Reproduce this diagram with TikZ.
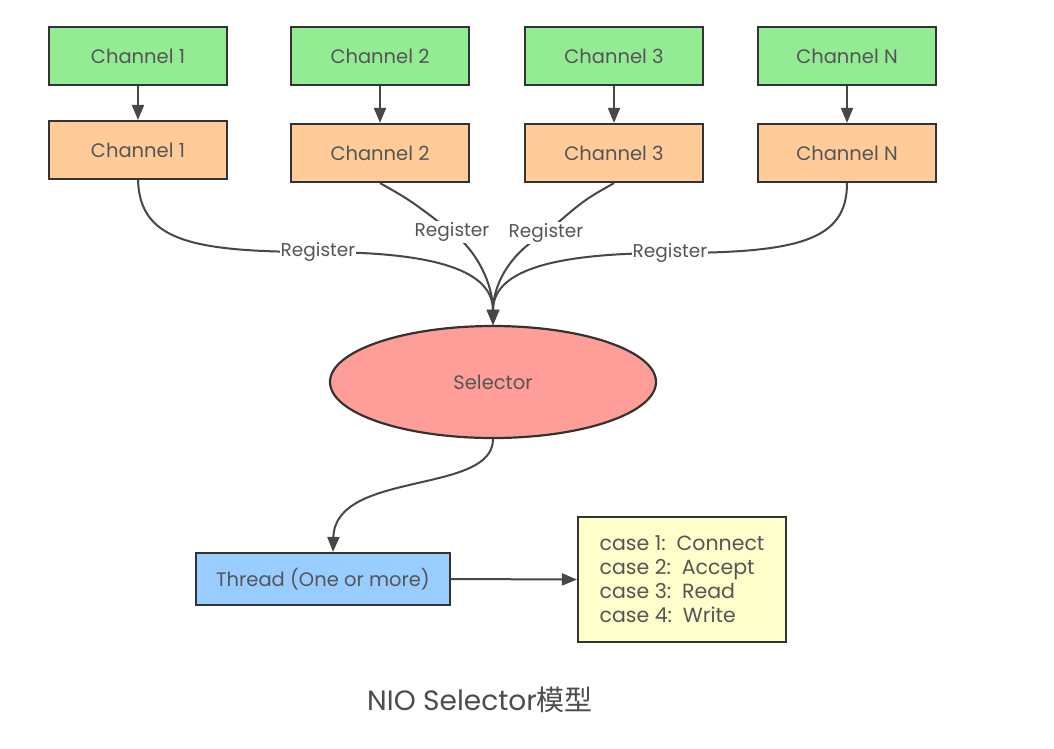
\documentclass[tikz,border=0pt]{standalone}
\usepackage{fontspec}
\setmainfont{Poppins}
\newfontfamily\cjk{Noto Sans CJK SC}
\usetikzlibrary{arrows.meta,shapes.geometric}
\definecolor{gfill}{HTML}{93EB93}
\definecolor{ofill}{HTML}{FFCC99}
\definecolor{sfill}{HTML}{FF9E99}
\definecolor{bfill}{HTML}{99CCFF}
\definecolor{yfill}{HTML}{FFFFCC}
\definecolor{edge}{HTML}{333333}
\definecolor{txt}{HTML}{555555}
\begin{document}
\begin{tikzpicture}[x=1pt,y=-1pt,
  box/.style={draw=edge, line width=2.2pt, minimum width=178pt, minimum height=58pt, inner sep=0pt, font=\fontsize{19.5}{22}\selectfont, text=txt},
  gbox/.style={box, fill=gfill},
  obox/.style={box, fill=ofill},
  conn/.style={draw=edge!90, line width=2pt, -{Triangle[length=15pt,width=12pt]}},
  lbl/.style={fill=white, inner sep=1pt, font=\fontsize{18.5}{20}\selectfont, text=txt}]
\path[use as bounding box, fill=white] (0,0) rectangle (1054,748);

\node[gbox] (g1) at (138,56) {Channel 1};
\node[gbox] (g2) at (380,56) {Channel 2};
\node[gbox] (g3) at (614,56) {Channel 3};
\node[gbox] (g4) at (847,56) {Channel N};

\node[obox] (o1) at (138,150) {Channel 1};
\node[obox] (o2) at (380,153) {Channel 2};
\node[obox] (o3) at (614,153) {Channel 3};
\node[obox] (o4) at (847,153) {Channel N};

\node[ellipse, draw=edge, line width=2.2pt, fill=sfill, minimum width=326pt, minimum height=112pt, inner sep=0pt, font=\fontsize{19.5}{22}\selectfont, text=txt] (sel) at (493,382) {Selector};

\node[box, fill=bfill, minimum width=254pt, minimum height=52pt] (thr) at (323,579) {Thread (One or more)};

\node[box, fill=yfill, minimum width=208pt, minimum height=125pt, align=left, font=\fontsize{20.5}{24}\selectfont] (cases) at (682,579.5) {case 1:\ \ Connect\\case 2:\ \ Accept\\case 3:\ \ Read\\case 4:\ \ Write};

\foreach \i in {1,2,3,4} {\draw[conn] (g\i) -- (o\i);}

\draw[conn] (o1.south) .. controls (140,240) and (190,252) .. (318,252) node[lbl] {Register}
  .. controls (440,252) and (493,272) .. (sel.north);
\draw[conn] (o2.south) .. controls (410,200) .. (452,232) node[lbl] {Register}
  .. controls (478,252) and (493,285) .. (sel.north);
\draw[conn] (o3.south) .. controls (584,200) .. (546,233) node[lbl] {Register}
  .. controls (510,252) and (493,285) .. (sel.north);
\draw[conn] (o4.south) .. controls (847,240) and (800,253) .. (670,253) node[lbl] {Register}
  .. controls (548,253) and (493,272) .. (sel.north);

\draw[conn] (sel.south) .. controls (493,495) and (335,470) .. ([xshift=10pt]thr.north);
\draw[conn] (thr.east) -- (cases.west);

\node[font=\fontsize{28}{32}\selectfont, text=black!70] (cap) at (480,700) {NIO Selector{\cjk 模型}};
\end{tikzpicture}
\end{document}
